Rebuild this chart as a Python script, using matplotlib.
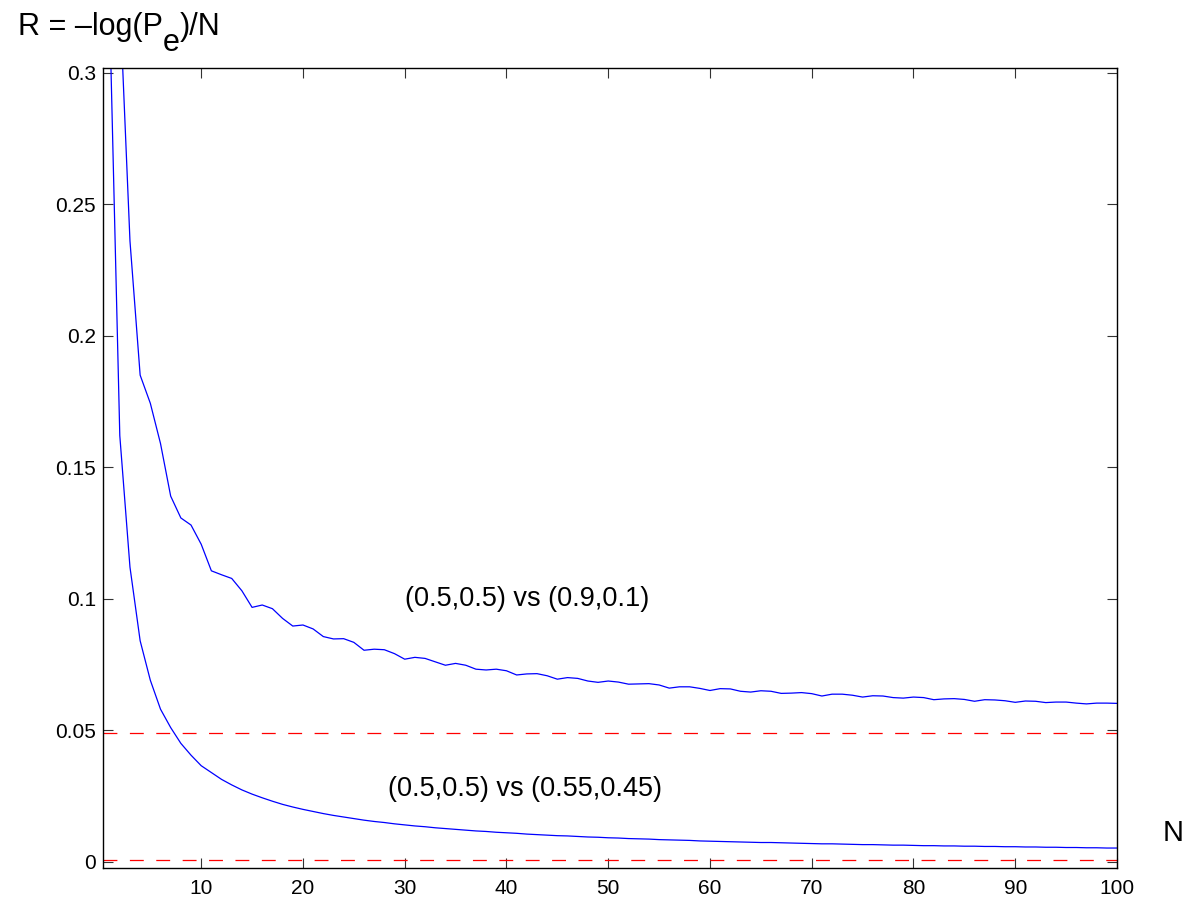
import matplotlib
matplotlib.use("Agg")
import matplotlib.pyplot as plt

plt.rcParams['font.family'] = ['Liberation Sans', 'DejaVu Sans']
plt.rcParams['lines.scale_dashes'] = False

# block length N
n_values = list(range(1, 101))

# rate for (0.5,0.5) vs (0.9,0.1)
rate_far = [0.523, 0.328, 0.236, 0.185, 0.1743, 0.159, 0.139, 0.1307, 0.128, 0.1207,
            0.1106, 0.1091, 0.1077, 0.1030, 0.0967, 0.0976, 0.0962, 0.0925, 0.0896, 0.0900,
            0.0885, 0.0856, 0.0847, 0.0848, 0.0834, 0.0804, 0.0808, 0.0806, 0.0791, 0.0770,
            0.0777, 0.0773, 0.0760, 0.0747, 0.0754, 0.0747, 0.0732, 0.0729, 0.0732, 0.0726,
            0.0710, 0.0714, 0.0715, 0.0707, 0.0694, 0.0700, 0.0697, 0.0687, 0.0682, 0.0687,
            0.0683, 0.0675, 0.0676, 0.0677, 0.0672, 0.0660, 0.0665, 0.0665, 0.0659, 0.0651,
            0.0658, 0.0657, 0.0648, 0.0645, 0.0650, 0.0648, 0.0640, 0.0641, 0.0643, 0.0639,
            0.0630, 0.0637, 0.0637, 0.0633, 0.0626, 0.0631, 0.0630, 0.0624, 0.0622, 0.0626,
            0.0624, 0.0616, 0.0619, 0.0620, 0.0617, 0.0610, 0.0616, 0.0615, 0.0612, 0.0606,
            0.0611, 0.0610, 0.0605, 0.0607, 0.0607, 0.0603, 0.0600, 0.0603, 0.0603, 0.0602]

# rate for (0.5,0.5) vs (0.55,0.45)
rate_near = [0.323, 0.162, 0.112, 0.084, 0.069, 0.058, 0.051, 0.045, 0.0405, 0.0365,
             0.0339, 0.0313, 0.0292, 0.0273, 0.0257, 0.0243, 0.0230, 0.0218, 0.0208, 0.0199,
             0.0191, 0.0183, 0.0176, 0.0170, 0.0164, 0.0158, 0.0153, 0.0149, 0.0144, 0.0140,
             0.0136, 0.0133, 0.0129, 0.0126, 0.0123, 0.0120, 0.0117, 0.0115, 0.0112, 0.0110,
             0.0108, 0.0105, 0.0103, 0.0101, 0.0099, 0.0098, 0.0096, 0.0094, 0.0093, 0.0091,
             0.0090, 0.0088, 0.0087, 0.0086, 0.0084, 0.0083, 0.0082, 0.0081, 0.0079, 0.0078,
             0.0077, 0.0076, 0.0075, 0.0074, 0.0073, 0.0073, 0.0072, 0.0071, 0.0070, 0.0069,
             0.0068, 0.0068, 0.0067, 0.0066, 0.0065, 0.0065, 0.0064, 0.0063, 0.0063, 0.0062,
             0.0061, 0.0061, 0.0060, 0.0060, 0.0059, 0.0059, 0.0058, 0.0058, 0.0057, 0.0057,
             0.0056, 0.0056, 0.0055, 0.0055, 0.0054, 0.0054, 0.0053, 0.0053, 0.0052, 0.0052]

# limits (dashed red lines)
limit_far = 0.049
limit_near = 0.0006

x_ticks = [10, 20, 30, 40, 50, 60, 70, 80, 90, 100]
y_ticks = [0, 0.05, 0.1, 0.15, 0.2, 0.25, 0.3]
y_ticklabels = ['0', '0.05', '0.1', '0.15', '0.2', '0.25', '0.3']

fig = plt.figure(figsize=(11.84, 9.01), dpi=100)
ax = fig.add_axes([0.087, 0.0366, 0.8564, 0.888])

ax.plot(n_values, rate_far, color='blue', lw=0.9)
ax.plot(n_values, rate_near, color='blue', lw=0.9)
ax.axhline(limit_far, color='red', lw=0.9, dashes=(10, 9))
ax.axhline(limit_near, color='red', lw=0.9, dashes=(10, 9))

ax.set_xlim(0.35, 100)
ax.set_ylim(-0.0024, 0.3018)
ax.set_xticks(x_ticks)
ax.set_yticks(y_ticks)
ax.set_yticklabels(y_ticklabels)
ax.tick_params(direction='in', length=7, width=0.8, labelsize=15, top=True, right=True,
               color='#333333')
ax.tick_params(axis='x', pad=8)
ax.tick_params(axis='y', pad=5)
for s in ax.spines.values():
    s.set_linewidth(1.0)

ax.text(30.0, 0.1, '(0.5,0.5) vs (0.9,0.1)', fontsize=19.5, va='center')
ax.text(28.4, 0.0278, '(0.5,0.5) vs (0.55,0.45)', fontsize=19.5, va='center')

# y label in three pieces so the subscript e sits low like the original
t1 = fig.text(0.015, 0.953, 'R = \u2013log(P', fontsize=22, va='bottom')
t2 = ax.annotate('e', xy=(1, 0), xycoords=t1, xytext=(0, -11), textcoords='offset points',
                 fontsize=22, va='bottom', annotation_clip=False)
ax.annotate(')/N', xy=(1, 0), xycoords=(t2, t1), xytext=(0, 0), textcoords='offset points',
            fontsize=22, va='bottom', annotation_clip=False)
fig.text(0.982, 0.075, 'N', fontsize=21, va='center')

fig.savefig('out.png', dpi=100)
